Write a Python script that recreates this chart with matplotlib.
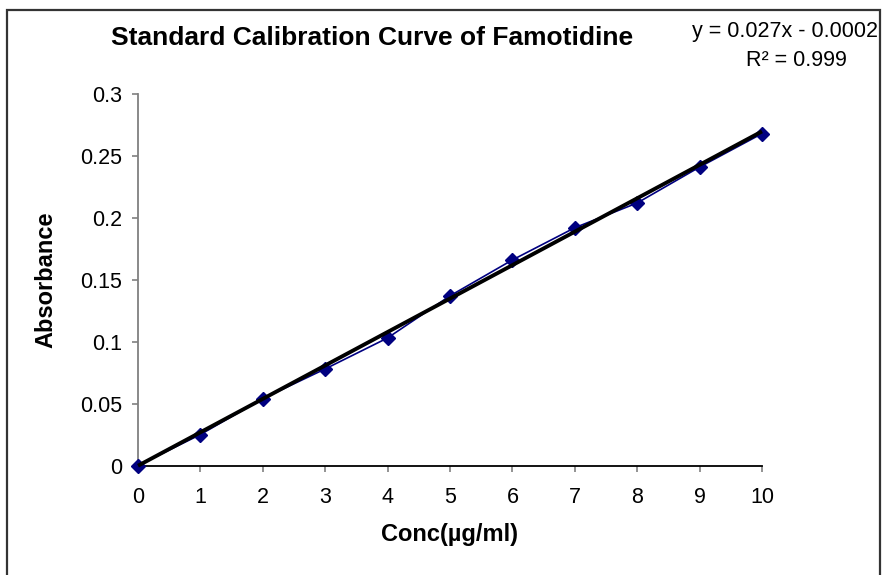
import numpy as np
import matplotlib
matplotlib.use('Agg')
import matplotlib.pyplot as plt
from matplotlib.patches import Rectangle

plt.rcParams['font.family'] = ['Liberation Sans', 'DejaVu Sans']

# data
conc = [0, 1, 2, 3, 4, 5, 6, 7, 8, 9, 10]
absorbance = [0, 0.025, 0.054, 0.078, 0.103, 0.137, 0.166, 0.192, 0.212, 0.241, 0.268]
slope = 0.027
intercept = -0.0002
r2 = 0.999
xticks = [0, 1, 2, 3, 4, 5, 6, 7, 8, 9, 10]
yticks = [0, 0.05, 0.1, 0.15, 0.2, 0.25, 0.3]
yticklabels = ['0', '0.05', '0.1', '0.15', '0.2', '0.25', '0.3']

fig = plt.figure(figsize=(8.83, 5.75), dpi=100)
ax = fig.add_axes([138 / 883, 1 - 465.5 / 575, 624 / 883, 371.5 / 575])

ax.plot(conc, absorbance, color='#000080', lw=1.2, marker='D', ms=7.5,
        clip_on=False, zorder=3)
xs = np.array([conc[0], conc[-1]])
ax.plot(xs, slope * xs + intercept, color='black', lw=2.8,
        solid_capstyle='butt', clip_on=False, zorder=4)

ax.set_xlim(0, 10)
ax.set_ylim(0, 0.3)
ax.set_xticks(xticks)
ax.set_yticks(yticks)
ax.set_yticklabels(yticklabels)
for s in ['top', 'right']:
    ax.spines[s].set_visible(False)
ax.spines['left'].set_color('#808080')
ax.spines['left'].set_linewidth(1.3)
ax.spines['bottom'].set_color('black')
ax.spines['bottom'].set_linewidth(1.3)
ax.tick_params(axis='both', direction='out', length=4.5, width=1.2,
               color='#808080', labelsize=15.5)
ax.tick_params(axis='x', pad=11)
ax.tick_params(axis='y', pad=7)

ax.set_xlabel('Conc(µg/ml)', fontsize=17, fontweight='bold', labelpad=11)
ax.set_ylabel('Absorbance', fontsize=17, fontweight='bold', labelpad=16)

fig.text(372 / 883, 1 - 38 / 575, 'Standard Calibration Curve of Famotidine',
         fontsize=19, fontweight='bold', ha='center', va='center')
fig.text(878 / 883, 1 - 31 / 575, 'y = 0.027x - 0.0002',
         fontsize=15.5, ha='right', va='center')
fig.text(796 / 883, 1 - 61 / 575, 'R² = %.3f' % r2,
         fontsize=15.5, ha='center', va='center')

fig.add_artist(Rectangle((7 / 883, -0.05), 873 / 883, 1.05 - 10 / 575,
                         transform=fig.transFigure, fill=False,
                         edgecolor='#333333', lw=1.6))

fig.savefig('out.png', dpi=100)
